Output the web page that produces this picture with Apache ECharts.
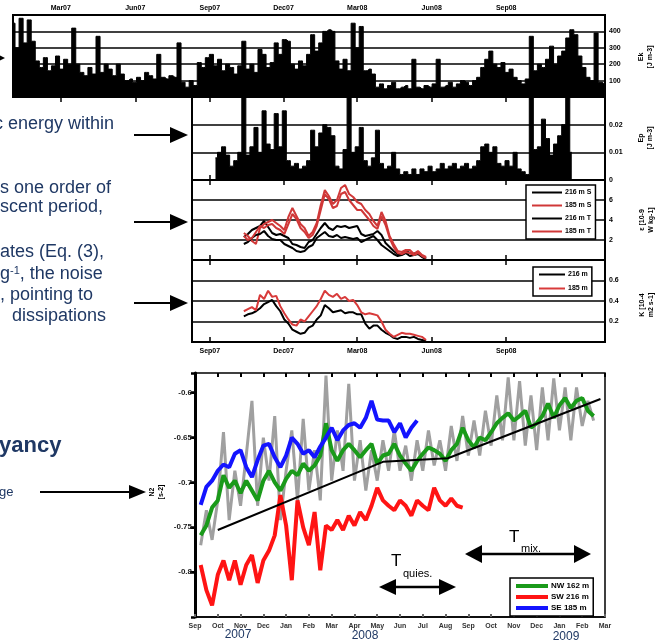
<!DOCTYPE html>
<html>
<head>
<meta charset="utf-8">
<script src="https://cdn.jsdelivr.net/npm/echarts@6/dist/echarts.min.js"></script>
</head>
<body style="margin:0;background:#fff">
<div id="main" style="width:658px;height:642px"></div>
<script>
// ---- upper panels: x in days since 1 Jan 2007, values every 5 days ----
var binDays = 5;
var tickDays = [59, 151, 243, 334, 425, 517, 609];
var tickLabels = ['Mar07', 'Jun07', 'Sep07', 'Dec07', 'Mar08', 'Jun08', 'Sep08'];

// panel 1 (bars, 0-500)
var p1Start = 0;
var p1Vals = [450,300,480,330,470,340,220,180,240,160,
  190,250,170,230,200,420,200,150,130,180,
  140,370,150,200,170,130,200,140,100,110,
  90,120,100,150,130,110,260,120,110,130,
  120,330,90,60,100,70,210,180,240,260,
  190,230,160,200,180,140,190,340,170,200,
  150,290,260,180,210,330,260,350,340,200,
  170,220,190,260,380,280,330,400,410,400,
  220,170,230,160,450,300,430,160,170,140,
  60,80,50,70,90,50,60,70,50,230,
  60,50,70,60,80,230,60,70,90,60,
  80,100,90,70,100,120,180,230,280,200,
  180,210,150,170,120,100,80,110,370,160,
  200,180,230,310,200,250,280,360,410,380,
  250,180,120,100,390,90,80];

// panel 2 (bars, 0-0.03)
var p2Start = 250;
var p2Vals = [0.008,0.010,0.012,0.009,0.005,0.007,0.010,0.035,0.009,0.012,
  0.019,0.010,0.025,0.013,0.011,0.024,0.012,0.025,0.007,0.005,
  0.006,0.004,0.005,0.007,0.018,0.012,0.017,0.020,0.019,0.016,
  0.005,0.004,0.011,0.035,0.010,0.012,0.019,0.007,0.005,0.008,
  0.018,0.006,0.004,0.005,0.010,0.004,0.002,0.003,0.002,0.004,
  0.002,0.004,0.003,0.005,0.003,0.004,0.006,0.004,0.005,0.006,
  0.004,0.005,0.006,0.004,0.005,0.007,0.012,0.013,0.010,0.012,
  0.006,0.005,0.007,0.005,0.010,0.004,0.003,0.002,0.035,0.011,
  0.012,0.022,0.015,0.009,0.013,0.016,0.020,0.035,0.010];

// panel 3 (0-8)
var p3Start = 285;
var p3BlackS = [2.3,2.6,3.0,3.2,3.4,3.9,3.3,2.7,2.5,2.6,2.4,2.2,1.6,1.5,1.3,1.2,1.8,2.0,2.6,3.2,3.7,3.2,3.0,3.4,3.3,3.4,3.2,3.3,3.4,2.6,2.4,2.5,2.6,2.9,2.5,1.7,1.3,0.9,0.6,0.6,0.9,0.7,0.6,0.8,0.4,0.2];
var p3RedS = [2.7,2.4,1.9,1.6,3.2,3.6,3.8,4.0,3.7,3.4,3.0,4.3,5.2,4.4,3.6,3.2,2.4,2.8,3.7,5.5,7.0,6.4,5.6,6.0,7.2,7.5,6.6,6.3,5.8,5.6,5.0,4.6,3.9,3.4,4.8,3.9,2.4,1.6,0.9,0.8,1.0,1.0,0.6,0.9,0.5,0.3];
var p3BlackT = [1.6,1.8,2.2,2.5,2.6,2.9,2.4,2.1,2.0,2.0,1.6,1.4,1.2,0.9,0.8,0.9,1.3,1.5,2.2,2.5,2.8,2.4,2.3,2.5,2.2,2.3,2.2,2.1,2.2,1.8,2.0,2.2,2.4,2.0,1.5,1.2,0.9,0.6,0.4,0.5,0.7,0.4,0.5,0.6,0.3,0.1];
var p3RedT = [2.4,2.0,2.2,2.8,3.4,3.2,3.5,3.6,3.2,3.0,2.6,3.6,4.6,4.1,3.2,2.8,2.2,2.5,3.4,5.0,6.6,6.1,5.2,5.4,6.6,6.8,6.0,5.5,5.0,5.0,4.5,4.0,3.4,3.1,4.4,3.5,2.2,1.3,0.7,0.6,0.8,0.7,0.5,0.7,0.4,0.2];

// panel 4 (0-0.8)
var p4Start = 285;
var p4Black = [0.25,0.27,0.28,0.30,0.33,0.37,0.39,0.41,0.35,0.30,0.22,0.18,0.12,0.10,0.08,0.09,0.14,0.16,0.22,0.26,0.36,0.33,0.29,0.30,0.31,0.28,0.29,0.29,0.27,0.27,0.18,0.13,0.16,0.16,0.12,0.09,0.07,0.04,0.03,0.05,0.05,0.04,0.05,0.03,0.02,0.01];
var p4Red = [0.30,0.32,0.34,0.31,0.46,0.42,0.50,0.44,0.45,0.35,0.28,0.22,0.17,0.16,0.22,0.20,0.25,0.30,0.35,0.42,0.50,0.46,0.44,0.47,0.42,0.44,0.40,0.41,0.36,0.29,0.27,0.28,0.27,0.26,0.20,0.12,0.08,0.05,0.07,0.09,0.08,0.08,0.07,0.06,0.05,0.02];

// ---- lower panel: x in months since Sep 2007, values every quarter month ----
var monthNames = ['Sep','Oct','Nov','Dec','Jan','Feb','Mar','Apr','May','Jun','Jul','Aug','Sep','Oct','Nov','Dec','Jan','Feb','Mar'];
var qStep = 0.25;
var qStart = 0.25;
var greyVals = [-0.770,-0.731,-0.764,-0.720,-0.644,-0.742,-0.687,-0.726,-0.670,-0.609,
  -0.726,-0.650,-0.698,-0.626,-0.742,-0.687,-0.642,-0.720,-0.629,-0.709,
  -0.664,-0.720,-0.581,-0.698,-0.642,-0.687,-0.590,-0.698,-0.653,-0.709,
  -0.664,-0.698,-0.653,-0.687,-0.642,-0.687,-0.659,-0.698,-0.653,-0.687,
  -0.642,-0.681,-0.653,-0.687,-0.637,-0.676,-0.626,-0.670,-0.631,-0.670,
  -0.620,-0.659,-0.603,-0.653,-0.583,-0.653,-0.587,-0.659,-0.603,-0.664,
  -0.594,-0.653,-0.584,-0.642,-0.594,-0.653,-0.594,-0.637,-0.609,-0.631];
var greenVals = [-0.759,-0.748,-0.728,-0.720,-0.692,-0.706,-0.698,-0.712,-0.698,-0.709,
  -0.720,-0.698,-0.687,-0.700,-0.709,-0.696,-0.687,-0.692,-0.679,-0.687,
  -0.681,-0.670,-0.634,-0.664,-0.676,-0.664,-0.657,-0.664,-0.672,-0.664,
  -0.657,-0.679,-0.670,-0.668,-0.657,-0.670,-0.679,-0.687,-0.676,-0.668,
  -0.661,-0.664,-0.668,-0.676,-0.664,-0.657,-0.639,-0.653,-0.661,-0.650,
  -0.653,-0.644,-0.634,-0.628,-0.623,-0.631,-0.626,-0.620,-0.639,-0.634,
  -0.626,-0.612,-0.628,-0.614,-0.606,-0.617,-0.609,-0.606,-0.620,-0.626];
var redVals = [-0.792,-0.820,-0.837,-0.803,-0.787,-0.809,-0.787,-0.814,-0.792,-0.781,
  -0.812,-0.787,-0.776,-0.759,-0.714,-0.748,-0.809,-0.720,-0.750,-0.770,
  -0.733,-0.798,-0.748,-0.753,-0.742,-0.753,-0.737,-0.748,-0.733,-0.742,
  -0.726,-0.706,-0.720,-0.726,-0.731,-0.720,-0.726,-0.737,-0.720,-0.726,
  -0.731,-0.706,-0.720,-0.726,-0.718,-0.726,-0.728];
var blueVals = [-0.725,-0.705,-0.698,-0.687,-0.680,-0.683,-0.668,-0.664,-0.683,-0.694,
  -0.675,-0.659,-0.657,-0.672,-0.683,-0.670,-0.650,-0.657,-0.668,-0.664,
  -0.672,-0.660,-0.650,-0.639,-0.653,-0.642,-0.636,-0.634,-0.639,-0.628,
  -0.609,-0.630,-0.631,-0.631,-0.644,-0.634,-0.650,-0.639,-0.631];
var trendX = [1.0, 8.25, 11.1, 17.8];
var trendY = [-0.753, -0.677, -0.673, -0.607];

function pairs(start, step, vals) {
  return vals.map(function (v, i) { return [start + i * step, v]; });
}

var chart = echarts.init(document.getElementById('main'), null, {renderer: 'canvas'});

var navy = '#1f3864';
var tiny = {fontSize: 7, fontWeight: 'bold', color: '#000', fontFamily: 'Liberation Sans'};

function tickAxis(grid, pos, min, max, vals) {
  return {
    type: 'value', gridIndex: grid, position: pos, min: min, max: max,
    axisLine: {show: false}, splitLine: {show: false}, axisLabel: {show: false},
    axisTick: {show: true, inside: true, length: 5, customValues: vals, lineStyle: {color: '#000', width: 1.5}}
  };
}

function rightAxis(grid, min, max, step, fmt, showMin) {
  return {
    type: 'value', gridIndex: grid, position: 'right', min: min, max: max, interval: step,
    axisLine: {show: false}, axisTick: {show: false},
    axisLabel: Object.assign({margin: 4, showMinLabel: showMin, showMaxLabel: false, formatter: fmt}, tiny),
    splitLine: {show: true, lineStyle: {color: '#000', width: 1.5}}
  };
}

function labelOf(v) {
  var i = tickDays.indexOf(v);
  return i >= 0 ? tickLabels[i] : '';
}

// x axes
var xTop = tickAxis(0, 'top', 0, 731, tickDays);
xTop.axisLabel = Object.assign({show: true, customValues: tickDays, formatter: labelOf, margin: 3}, tiny);
var x4 = tickAxis(3, 'bottom', 221, 731, tickDays.slice(2));
x4.axisLabel = Object.assign({show: true, customValues: tickDays.slice(2), formatter: labelOf, margin: 6}, tiny);

var xAxes = [
  xTop,
  tickAxis(1, 'bottom', 221, 731, tickDays.slice(2)),
  tickAxis(1, 'top', 221, 731, tickDays.slice(2)),
  tickAxis(2, 'bottom', 221, 731, tickDays.slice(2)),
  tickAxis(2, 'top', 221, 731, tickDays.slice(2)),
  x4,
  tickAxis(3, 'top', 221, 731, tickDays.slice(2)),
  {
    type: 'value', gridIndex: 4, position: 'bottom', min: 0, max: 18, interval: 1,
    axisLine: {show: true, lineStyle: {color: '#000', width: 1.5}},
    axisTick: {show: true, inside: true, length: 3, lineStyle: {color: '#666', width: 2}},
    axisLabel: Object.assign({}, tiny, {color: '#333', margin: 6, formatter: function (v) { return monthNames[v] || ''; }}),
    splitLine: {show: false}
  },
  {
    type: 'value', gridIndex: 4, position: 'top', min: 0, max: 18, interval: 1,
    axisLine: {show: false}, axisLabel: {show: false}, splitLine: {show: false},
    axisTick: {show: true, inside: true, length: 4, lineStyle: {color: '#000', width: 2}}
  }
];

var yAxes = [
  rightAxis(0, 0, 500, 100, null, false),
  rightAxis(1, 0, 0.03, 0.01, function (v) { return v === 0 ? '0' : v.toFixed(2); }, true),
  rightAxis(2, 0, 8, 2, null, false),
  rightAxis(3, 0, 0.8, 0.2, function (v) { return v.toFixed(1); }, false),
  {
    type: 'value', gridIndex: 4, position: 'left', min: -0.85, max: -0.578, interval: 0.05,
    axisLine: {show: true, lineStyle: {color: '#000', width: 3}},
    axisTick: {show: true, inside: false, length: 5, lineStyle: {color: '#000', width: 2}},
    axisLabel: Object.assign({}, tiny, {fontSize: 8, color: '#222', margin: 3, showMinLabel: false, showMaxLabel: false,
      formatter: function (v) { return String(Math.round(v * 100) / 100); }}),
    splitLine: {show: false}
  },
  {
    type: 'value', gridIndex: 4, position: 'right', min: -0.85, max: -0.578, interval: 0.05,
    axisLine: {show: false}, axisLabel: {show: false}, splitLine: {show: false},
    axisTick: {show: true, inside: true, length: 4, lineStyle: {color: '#000', width: 2.5}}
  }
];

function lineS(name, xi, yi, data, color, width) {
  return {
    name: name, type: 'line', xAxisIndex: xi, yAxisIndex: yi, data: data, symbol: 'none',
    lineStyle: {color: color, width: width}, itemStyle: {color: color}
  };
}

function areaS(name, xi, yi, data) {
  var s = lineS(name, xi, yi, data, '#000', 1);
  s.step = 'middle';
  s.areaStyle = {color: '#000', opacity: 1};
  return s;
}

var series = [
  areaS('p1', 0, 0, pairs(p1Start, binDays, p1Vals)),
  areaS('p2', 1, 1, pairs(p2Start, binDays, p2Vals)),
  lineS('216 m S', 3, 2, pairs(p3Start, binDays, p3BlackS), '#000', 2),
  lineS('185 m S', 3, 2, pairs(p3Start, binDays, p3RedS), '#d03838', 2),
  lineS('216 m T', 3, 2, pairs(p3Start, binDays, p3BlackT), '#000', 2),
  lineS('185 m T', 3, 2, pairs(p3Start, binDays, p3RedT), '#d03838', 2),
  lineS('216 m', 5, 3, pairs(p4Start, binDays, p4Black), '#000', 2),
  lineS('185 m', 5, 3, pairs(p4Start, binDays, p4Red), '#d83a3a', 2),
  lineS('all', 7, 4, pairs(qStart, qStep, greyVals), '#a0a0a0', 3),
  lineS('NW 162 m', 7, 4, pairs(qStart, qStep, greenVals), '#1a9a1a', 4),
  lineS('SW 216 m', 7, 4, pairs(qStart, qStep, redVals), '#ff1414', 4),
  lineS('SE 185 m', 7, 4, pairs(qStart, qStep, blueVals), '#1414ff', 4),
  lineS('trend', 7, 4, trendX.map(function (x, i) { return [x, trendY[i]]; }), '#000', 2)
];

function legendBox(names, left, top, w, h, gap, fs) {
  return {
    data: names, left: left, top: top, orient: 'vertical', icon: 'rect', selectedMode: false,
    itemWidth: w, itemHeight: h, itemGap: gap, padding: [4, 4, 4, 6],
    borderColor: '#000', borderWidth: 1.5, backgroundColor: '#fff',
    textStyle: Object.assign({}, tiny, {fontSize: fs || 7, padding: [0, 0, 0, -2]})
  };
}

// ---- annotations ----
function arrowR(x1, x2, y, head, half) {
  return [
    {type: 'line', shape: {x1: x1, y1: y, x2: x2 - head + 1, y2: y}, style: {stroke: '#000', lineWidth: 2}},
    {type: 'polygon', shape: {points: [[x2 - head, y - half], [x2, y], [x2 - head, y + half]]}, style: {fill: '#000'}}
  ];
}
function arrowBoth(x1, x2, y, head, half) {
  return [
    {type: 'line', shape: {x1: x1 + head, y1: y, x2: x2 - head, y2: y}, style: {stroke: '#000', lineWidth: 2.5}},
    {type: 'polygon', shape: {points: [[x1 + head, y - half], [x1, y], [x1 + head, y + half]]}, style: {fill: '#000'}},
    {type: 'polygon', shape: {points: [[x2 - head, y - half], [x2, y], [x2 - head, y + half]]}, style: {fill: '#000'}}
  ];
}
function txt(t, x, y, size, color, extra) {
  return {type: 'text', x: x, y: y, style: Object.assign({
    text: t, fontSize: size, fontFamily: 'Liberation Sans', fill: color, verticalAlign: 'middle'
  }, extra || {})};
}
function vtxt(t, x, y) {
  return {type: 'text', x: x, y: y, rotation: Math.PI / 2, style: {
    text: t, fontSize: 7, fontWeight: 'bold', fontFamily: 'Liberation Sans', fill: '#000',
    align: 'center', verticalAlign: 'middle', lineHeight: 9
  }};
}

var graphics = [].concat(
  [{type: 'polygon', shape: {points: [[-3, 54], [5, 58], [-3, 62]]}, style: {fill: '#000'}}],
  arrowR(134, 188, 135, 18, 8),
  arrowR(134, 188, 222, 18, 8),
  arrowR(134, 188, 303, 18, 8),
  arrowR(40, 146, 492, 17, 7),
  arrowBoth(379, 456, 587, 17, 8),
  arrowBoth(465, 591, 554, 17, 9),
  [
    txt('c energy within', -6, 124, 18, navy),
    txt('s one order of', 0, 188, 18, navy),
    txt('scent period,', 0, 207, 18, navy),
    txt('ates (Eq. (3),', 0, 252, 18, navy),
    {type: 'text', x: 0, y: 274, style: {
      text: 'g{s|-1}, the noise', fontSize: 18, fontFamily: 'Liberation Sans', fill: navy,
      verticalAlign: 'middle',
      rich: {s: {fontSize: 11, fontFamily: 'Liberation Sans', fill: navy, verticalAlign: 'top'}}
    }},
    txt(', pointing to', 0, 295, 18, navy),
    txt('dissipations', 12, 316, 18, navy),
    txt('yancy', -1, 446, 22, navy, {fontWeight: 'bold'}),
    txt('ge', -1, 492, 13, navy),
    txt('2007', 238, 635, 12, navy, {align: 'center'}),
    txt('2008', 365, 636, 12, navy, {align: 'center'}),
    txt('2009', 566, 637, 12, navy, {align: 'center'}),
    txt('T', 391, 561, 17, '#000'),
    txt('quies.', 403, 574, 11, '#000'),
    txt('T', 509, 537, 17, '#000'),
    txt('mix.', 521, 549, 11, '#000'),
    vtxt('Ek\n[J m-3]', 646, 57),
    vtxt('Ep\n[J m-3]', 646, 138),
    vtxt('\u03b5 [10-9\nW kg-1]', 647, 220),
    vtxt('K [10-4\nm2 s-1]', 647, 305),
    vtxt('N2\n[s-2]', 157, 492)
  ]
);

var option = {
  animation: false,
  backgroundColor: '#fff',
  grid: [
    {left: 13, top: 15, width: 592, height: 82},
    {left: 192, top: 97, width: 413, height: 83},
    {left: 192, top: 180, width: 413, height: 80},
    {left: 192, top: 260, width: 413, height: 82},
    {left: 195, top: 373, width: 410, height: 244, borderWidth: 1.5}
  ].map(function (g) {
    return Object.assign({show: true, borderColor: '#000', borderWidth: 2, outerBoundsMode: 'none'}, g);
  }),
  xAxis: xAxes,
  yAxis: yAxes,
  legend: [
    legendBox(['216 m S', '185 m S', '216 m T', '185 m T'], 526, 185, 30, 2, 6),
    legendBox(['216 m', '185 m'], 533, 267, 26, 2, 7),
    legendBox(['NW 162 m', 'SW 216 m', 'SE 185 m'], 510, 578, 32, 4, 3, 8)
  ],
  series: series,
  graphic: graphics
};

chart.setOption(option);
</script>
</body>
</html>
